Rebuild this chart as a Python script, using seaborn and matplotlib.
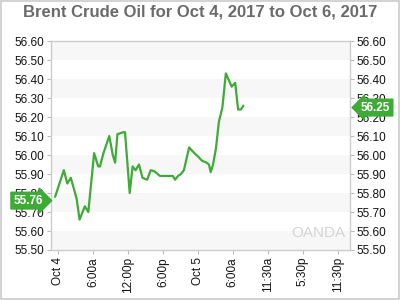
import matplotlib
matplotlib.use("Agg")
import matplotlib.pyplot as plt
import matplotlib.transforms as mtransforms
from matplotlib.patches import Rectangle
import seaborn as sns
import pandas as pd

# hours since Oct 4 00:00
hours = [-0.5, 1.0, 1.6, 2.2, 3.2, 3.7, 4.6, 5.2, 6.2, 6.9, 7.2, 7.8, 8.8, 9.4, 9.8,
         10.2, 11.2, 11.5, 12.3, 12.8, 13.3, 13.9, 14.5, 15.3, 15.9, 16.5, 17.5,
         19.7, 20.1, 20.6, 21.1, 21.6, 22.5, 23.4, 24.1, 24.7, 25.5, 25.9, 26.2,
         26.6, 27.1, 27.6, 28.2, 28.8, 29.8, 30.4, 30.9, 31.4, 31.8]
prices = [55.78, 55.92, 55.85, 55.88, 55.77, 55.66, 55.73, 55.70, 56.01, 55.94, 55.94,
          56.01, 56.10, 56.00, 55.96, 56.11, 56.12, 56.12, 55.80, 55.94, 55.92, 55.95,
          55.88, 55.87, 55.92, 55.915, 55.89, 55.89, 55.87, 55.89, 55.90, 55.92,
          56.04, 56.01, 55.99, 55.97, 55.96, 55.95, 55.91, 55.95, 56.035, 56.175,
          56.25, 56.43, 56.36, 56.38, 56.24, 56.24, 56.26]

x_ticks = [0, 6, 12, 18, 24, 30, 36, 42, 48]
x_labels = ["Oct 4", "6:00a", "12:00p", "6:00p", "Oct 5", "6:00a", "11:30a", "5:30p", "11:30p"]
y_ticks = [55.5, 55.6, 55.7, 55.8, 55.9, 56.0, 56.1, 56.2, 56.3, 56.4, 56.5, 56.6]
open_price = 55.76
last_price = 56.25
title = "Brent Crude Oil for Oct 4, 2017 to Oct 6, 2017"

sns.set_style("white")
plt.rcParams['font.family'] = ['Liberation Sans', 'DejaVu Sans']

green = "#3dab35"
fig = plt.figure(figsize=(4, 3), dpi=100)
ax = fig.add_axes([0.1275, 0.1667, 0.7475, 0.6963])

df = pd.DataFrame({"h": hours, "p": prices})
sns.lineplot(data=df, x="h", y="p", ax=ax, color=green, linewidth=1.6)

# alternating bands
for lo in [55.5, 55.7, 55.9, 56.1, 56.3, 56.5]:
    ax.axhspan(lo, lo + 0.1, color="#f7f7f7", zorder=0, lw=0)

ax.set_xlim(-1.2, 50.1)
ax.set_ylim(55.5, 56.6)
ax.set_xticks(x_ticks)
ax.set_xticklabels(x_labels, rotation=90)
ax.set_yticks(y_ticks)
ax.set_yticklabels([f"{v:.2f}" for v in y_ticks])
ax.tick_params(axis="both", labelsize=8.5, colors="#bbbbbb", labelcolor="#111111",
               length=3, width=0.8, direction="out", pad=2)
ax.tick_params(axis="y", left=True, right=True, labelleft=True, labelright=True)
ax.tick_params(axis="x", bottom=True)
ax.set_xlabel("")
ax.set_ylabel("")
for s in ax.spines.values():
    s.set_color("#cccccc")
    s.set_linewidth(1)

fig.suptitle(title, x=0.5, y=0.985, fontsize=12, fontweight="bold", color="#6a6a6a")

# price flags
trL = mtransforms.blended_transform_factory(ax.transAxes, ax.transData)
ax.annotate(f"{open_price:.2f}", xy=(0, open_price), xycoords=trL,
            xytext=(-6, 0), textcoords="offset points", ha="right", va="center",
            fontsize=8.5, fontweight="bold", color="white",
            bbox=dict(boxstyle="rarrow,pad=0.2", fc=green, ec=green), annotation_clip=False)
ax.annotate(f"{last_price:.2f}", xy=(1, last_price), xycoords=trL,
            xytext=(8, 0), textcoords="offset points", ha="left", va="center",
            fontsize=8.5, fontweight="bold", color="white",
            bbox=dict(boxstyle="larrow,pad=0.2", fc=green, ec=green), annotation_clip=False)

# watermark
ax.text(0.985, 0.05, "OANDA", transform=ax.transAxes, ha="right", va="bottom",
        fontsize=11, color="#d4d4d4")

fig.patches.append(Rectangle((0.002, 0.003), 0.995, 0.994, transform=fig.transFigure,
                             fill=False, ec="#cccccc", lw=1.2))

fig.savefig("out.png", dpi=100)
